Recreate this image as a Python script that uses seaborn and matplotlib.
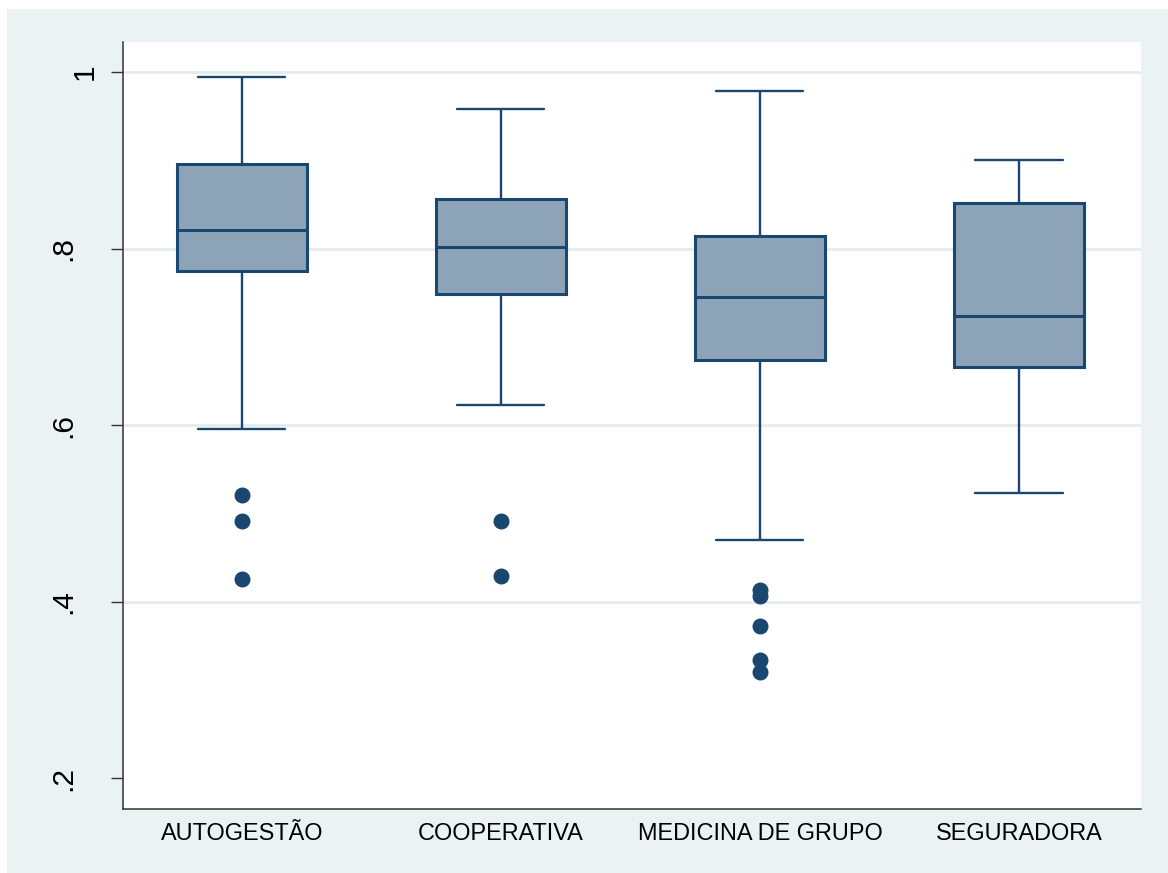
import numpy as np
import pandas as pd
import matplotlib
matplotlib.use("Agg")
import matplotlib.pyplot as plt
import matplotlib.transforms as mtransforms
from matplotlib.patches import Rectangle
import seaborn as sns

# Plan types and their five-number summaries
categories = ["AUTOGESTÃO", "COOPERATIVA", "MEDICINA DE GRUPO", "SEGURADORA"]
lower_whisker = [0.5951, 0.6227, 0.4697, 0.5230]
q1 = [0.7749, 0.7484, 0.6737, 0.6657]
median = [0.8206, 0.8020, 0.7450, 0.7235]
q3 = [0.8954, 0.8561, 0.8142, 0.8516]
upper_whisker = [0.9940, 0.9577, 0.9785, 0.9003]
outliers = [
    [0.5212, 0.4916, 0.4255],
    [0.4912, 0.4289],
    [0.4130, 0.4062, 0.3722, 0.3337, 0.3201],
    [],
]

ytick_values = [0.2, 0.4, 0.6, 0.8, 1.0]
ytick_labels = [".2", ".4", ".6", ".8", "1"]


def sample_from_summary(lo, a, m, b, hi, extra, half=7):
    """Ordered sample (n = 4*half + 1) whose linear quartiles are a, m, b."""
    low_part = sorted(extra) + [lo]
    low_part += [a] * (half - len(low_part))          # indices 0 .. half-1
    vals = (low_part
            + [a] * half                              # q1 sits at index half
            + [m] * half                              # median at index 2*half
            + [b] * half                              # q3 at index 3*half
            + [hi])                                   # index 4*half
    return vals


rows = []
for i, cat in enumerate(categories):
    for v in sample_from_summary(lower_whisker[i], q1[i], median[i], q3[i],
                                 upper_whisker[i], outliers[i]):
        rows.append((cat, v))
df = pd.DataFrame(rows, columns=["plan", "value"])

navy = "#1A476F"
fill = "#8DA3B7"
bg = "#EAF2F3"
grid_c = "#E4ECEF"

sns.set_style("white")
plt.rcParams["font.family"] = ["Liberation Sans", "DejaVu Sans"]

fig = plt.figure(figsize=(11.68, 8.73), dpi=100)
fig.patch.set_facecolor("white")
fig.patches.append(Rectangle((7 / 1168, 0), 1, (873 - 9) / 873,
                             transform=fig.transFigure, facecolor=bg,
                             edgecolor="none", zorder=-10))

ax = fig.add_axes([123 / 1168, 1 - 809 / 873, 1018 / 1168, (809 - 42) / 873])
ax.set_facecolor("white")

sns.boxplot(
    data=df, x="plan", y="value", order=categories, ax=ax,
    color=fill, saturation=1, width=0.5, whis=1.5,
    linecolor=navy, linewidth=2.2, fliersize=10.5,
    flierprops=dict(marker="o", markerfacecolor=navy, markeredgecolor=navy),
    whiskerprops=dict(linewidth=1.7, color=navy),
    capprops=dict(linewidth=1.7, color=navy),
    medianprops=dict(linewidth=2.2, color=navy),
    capwidths=0.336,
)

ax.set_xlim(-0.459, 3.471)
ax.set_ylim(0.1649, 1.034)

for v in ytick_values:
    if v > 0.3:
        ax.axhline(v, color=grid_c, linewidth=2, zorder=0)

ax.set_yticks(ytick_values)
ax.set_yticklabels(ytick_labels, rotation=90, va="center")
ax.tick_params(axis="y", length=8.6, width=1, color="#333333", pad=8.6,
               labelsize=21.5, labelcolor="black", left=True)
ax.tick_params(axis="x", length=0, pad=9, labelsize=16.9, labelcolor="black")
ax.set_xlabel("")
ax.set_ylabel("")

# labels with a leading point sit further out from the axis
for lab in ax.get_yticklabels():
    if lab.get_text().startswith("."):
        shift = mtransforms.ScaledTranslation(-22 / 100, 0, fig.dpi_scale_trans)
        lab.set_transform(lab.get_transform() + shift)

for side in ["top", "right"]:
    ax.spines[side].set_visible(False)
for side in ["left", "bottom"]:
    ax.spines[side].set_color("#333333")
    ax.spines[side].set_linewidth(1.1)

fig.savefig("out.png", dpi=100, facecolor=fig.get_facecolor())
